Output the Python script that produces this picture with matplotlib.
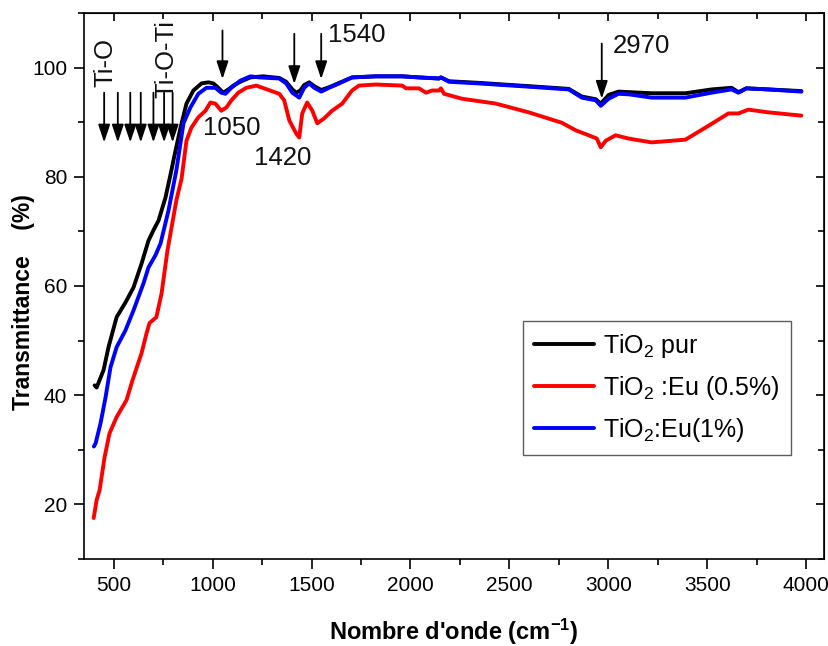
import matplotlib
matplotlib.use("Agg")
import matplotlib.pyplot as plt
from matplotlib.ticker import MultipleLocator

plt.rcParams["font.family"] = ["Liberation Sans", "DejaVu Sans"]
plt.rcParams["mathtext.default"] = "regular"

NARROW = ["Liberation Sans Narrow", "Liberation Sans", "DejaVu Sans"]

# TiO2 pur
wn_pur = [404, 414, 449, 474, 515, 560, 600, 641, 676, 701, 727, 762, 792, 802, 838, 868,
          903, 944, 979, 1004, 1029, 1054, 1080, 1105, 1140, 1191, 1256, 1337, 1372, 1403,
          1423, 1443, 1463, 1488, 1514, 1549, 1589, 1640, 1705, 1826, 1958, 2043, 2144, 2154,
          2195, 2346, 2598, 2800, 2866, 2937, 2962, 3002, 3052, 3219, 3390, 3522, 3623, 3658,
          3698, 3809, 3976]
t_pur = [41.8, 41.4, 44.6, 48.8, 54.3, 57.0, 59.7, 64.1, 68.3, 70.2, 72.0, 76.2, 81.2, 83.0,
         89.0, 93.4, 95.8, 97.1, 97.3, 97.1, 96.3, 95.4, 96.0, 96.7, 97.4, 98.2, 98.4, 98.1,
         97.4, 96.0, 95.4, 95.8, 96.8, 97.3, 96.6, 95.9, 96.4, 97.2, 98.2, 98.4, 98.4, 98.2,
         98.0, 98.2, 97.5, 97.2, 96.6, 96.1, 94.7, 94.2, 93.4, 95.0, 95.6, 95.3, 95.3, 96.0,
         96.3, 95.5, 96.2, 96.0, 95.7]

# TiO2:Eu (0.5%)
wn_eu05 = [399, 414, 429, 454, 479, 515, 565, 595, 641, 666, 681, 716, 742, 772, 817, 843,
           868, 893, 928, 964, 989, 1014, 1044, 1070, 1095, 1130, 1171, 1221, 1337, 1362,
           1388, 1423, 1438, 1453, 1478, 1504, 1529, 1564, 1604, 1655, 1705, 1740, 1826,
           1958, 1978, 2043, 2079, 2109, 2144, 2154, 2170, 2260, 2432, 2598, 2765, 2836,
           2901, 2942, 2962, 2987, 3037, 3103, 3219, 3390, 3491, 3607, 3658, 3708, 3809, 3976]
t_eu05 = [17.5, 20.8, 22.6, 28.6, 33.0, 36.0, 39.1, 42.7, 47.7, 51.3, 53.2, 54.3, 58.6, 66.5,
          75.7, 79.6, 86.6, 89.0, 90.9, 92.1, 93.6, 93.4, 92.1, 92.7, 94.0, 95.4, 96.3, 96.7,
          95.2, 94.0, 90.3, 87.9, 87.2, 91.6, 93.6, 92.1, 89.8, 90.7, 92.1, 93.4, 95.8, 96.7,
          96.9, 96.7, 96.2, 96.2, 95.4, 95.8, 95.8, 96.2, 95.2, 94.3, 93.4, 91.8, 89.9, 88.5,
          87.6, 87.0, 85.4, 86.6, 87.6, 87.0, 86.3, 86.8, 89.0, 91.6, 91.6, 92.3, 91.8, 91.2]

# TiO2:Eu (1%)
wn_eu1 = [400, 409, 434, 459, 484, 515, 560, 600, 651, 676, 711, 737, 777, 817, 853, 888,
          928, 969, 1014, 1044, 1065, 1095, 1140, 1191, 1236, 1337, 1372, 1403, 1438, 1463,
          1488, 1514, 1549, 1589, 1640, 1705, 1826, 1958, 2043, 2144, 2154, 2195, 2346, 2598,
          2800, 2866, 2937, 2962, 3002, 3052, 3103, 3219, 3390, 3522, 3623, 3658, 3698, 3809,
          3976]
t_eu1 = [30.6, 31.2, 34.9, 39.6, 45.1, 48.8, 51.9, 55.5, 60.5, 63.4, 65.6, 67.8, 73.8, 81.2,
         89.8, 92.7, 95.2, 96.3, 96.3, 95.4, 95.2, 96.3, 97.6, 98.4, 98.2, 98.0, 97.1, 95.4,
         94.5, 96.3, 97.1, 96.3, 95.6, 96.3, 97.1, 98.2, 98.4, 98.4, 98.2, 98.0, 98.2, 97.4,
         97.1, 96.5, 96.0, 94.5, 94.0, 93.0, 94.3, 95.2, 95.1, 94.5, 94.5, 95.4, 96.0, 95.4,
         96.2, 96.0, 95.6]

labels = ["TiO$_2$ pur", "TiO$_2$ :Eu (0.5%)", "TiO$_2$:Eu(1%)"]

# band marks: (x, arrow top, arrow tip)
tio_marks = [452, 521, 584, 637, 701, 755, 798]
peak_marks = [(1050, 106.8, 97.9), (1413, 106.2, 97.0), (1549, 106.2, 97.9), (2967, 104.4, 94.3)]
peak_texts = [("1050", 1095, 89.0), ("1420", 1352, 83.5), ("1540", 1731, 106.0), ("2970", 3168, 104.0)]

fig = plt.figure(figsize=(8.29, 6.46), dpi=100)
ax = fig.add_axes([0.1013, 0.1347, 0.8926, 0.8452])

lw = 2.8
ax.plot(wn_pur, t_pur, color="black", lw=lw, label=labels[0], solid_capstyle="round")
ax.plot(wn_eu05, t_eu05, color="#ff0000", lw=lw, label=labels[1], solid_capstyle="round")
ax.plot(wn_eu1, t_eu1, color="#0000ff", lw=lw, label=labels[2], solid_capstyle="round")

arrowprops = dict(arrowstyle="-|>,head_length=0.9,head_width=0.3", color="black", lw=1.3,
                  mutation_scale=12, shrinkA=0, shrinkB=0)
for x in tio_marks:
    ax.annotate("", xy=(x, 86.3), xytext=(x, 95.4), arrowprops=arrowprops)
for x, top, tip in peak_marks:
    ax.annotate("", xy=(x, tip), xytext=(x, top), arrowprops=arrowprops)
for txt, x, y in peak_texts:
    ax.text(x, y, txt, fontsize=18.5, ha="center", va="center", color="#111111")
ax.text(457, 101.0, "Ti-O", fontsize=18.5, rotation=90, ha="center", va="center", color="#111111")
ax.text(764, 101.6, "Ti-O-Ti", fontsize=18.5, rotation=90, ha="center", va="center", color="#111111")

ax.set_xlim(350, 4090)
ax.set_ylim(10, 110)
ax.xaxis.set_major_locator(MultipleLocator(500))
ax.xaxis.set_minor_locator(MultipleLocator(250))
ax.yaxis.set_major_locator(MultipleLocator(20))
ax.yaxis.set_minor_locator(MultipleLocator(10))
ax.set_yticks([20, 40, 60, 80, 100])
ax.tick_params(which="both", direction="out", width=1.2, top=False, right=False)
ax.tick_params(which="major", length=7, labelsize=15, pad=5)
ax.tick_params(which="minor", length=4)
for lab in ax.get_xticklabels() + ax.get_yticklabels():
    lab.set_family(NARROW)

# mirrored inward ticks on top and right
secx = ax.secondary_xaxis("top")
secx.xaxis.set_major_locator(MultipleLocator(500))
secx.xaxis.set_minor_locator(MultipleLocator(250))
secx.tick_params(which="both", direction="in", width=1.2, labeltop=False)
secx.tick_params(which="major", length=6)
secx.tick_params(which="minor", length=4)
secy = ax.secondary_yaxis("right")
secy.yaxis.set_major_locator(MultipleLocator(20))
secy.yaxis.set_minor_locator(MultipleLocator(10))
secy.tick_params(which="both", direction="in", width=1.2, labelright=False)
secy.tick_params(which="major", length=6)
secy.tick_params(which="minor", length=4)

for sp in ax.spines.values():
    sp.set_linewidth(1.2)

ax.set_xlabel("Nombre d'onde (cm$^{-1}$)", fontsize=17, fontweight="bold", family=NARROW)
ax.xaxis.set_label_coords(0.50, -0.105)
ax.set_ylabel("Transmittance    (%)", fontsize=16.5, fontweight="bold")
ax.yaxis.set_label_coords(-0.066, 0.47)

leg = ax.legend(loc="upper left", bbox_to_anchor=(0.593, 0.436), fontsize=18,
                frameon=True, fancybox=False, handlelength=2.4, handletextpad=0.35,
                labelspacing=0.55, borderpad=0.45, borderaxespad=0)
leg.get_frame().set_edgecolor("#333333")
leg.get_frame().set_linewidth(1.0)

fig.savefig("out.png", dpi=100)
